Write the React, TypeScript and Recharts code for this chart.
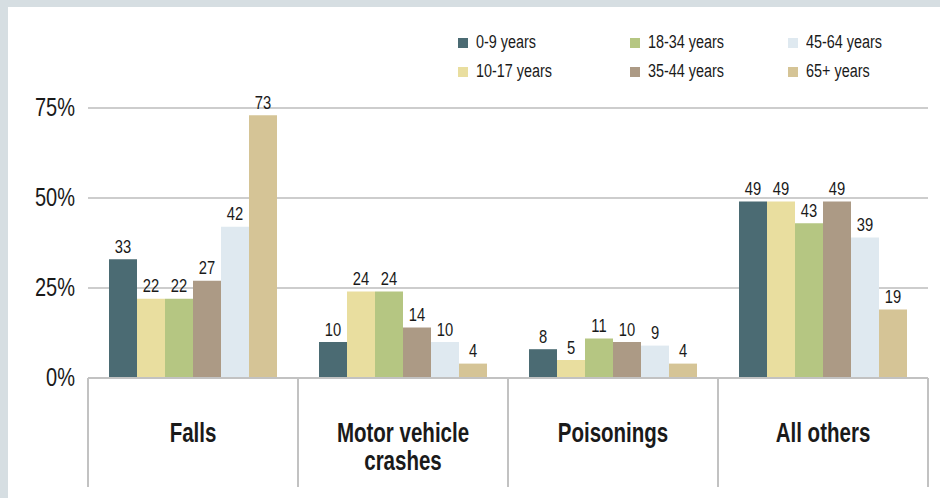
import React from "react";
import { BarChart, Bar, XAxis, YAxis, CartesianGrid, Legend, LabelList } from "recharts";

const categories = ["Falls", "Motor vehicle\ncrashes", "Poisonings", "All others"];
const age0to9 = [33, 10, 8, 49];
const age10to17 = [22, 24, 5, 49];
const age18to34 = [22, 24, 11, 43];
const age35to44 = [27, 14, 10, 49];
const age45to64 = [42, 10, 9, 39];
const age65plus = [73, 4, 4, 19];
const yTicks = [0, 25, 50, 75];

const seriesDefs = [
  { key: "a0", name: "0-9 years", values: age0to9, color: "#4b6b73" },
  { key: "a10", name: "10-17 years", values: age10to17, color: "#e9de9f" },
  { key: "a18", name: "18-34 years", values: age18to34, color: "#b5c682" },
  { key: "a35", name: "35-44 years", values: age35to44, color: "#ac9a85" },
  { key: "a45", name: "45-64 years", values: age45to64, color: "#dfe9f0" },
  { key: "a65", name: "65+ years", values: age65plus, color: "#d5c496" },
];

const data = categories.map((c, i) => {
  const row: any = { category: c };
  seriesDefs.forEach((s) => (row[s.key] = s.values[i]));
  return row;
});

const FONT = '"Liberation Sans", Arial, sans-serif';
const LINE = "#c2c2c2";
const INK = "#1a1a1a";

const NarrowText = ({ x, y, scale, anchor, size, bold, children }: any) => (
  <text
    transform={`translate(${x},${y}) scale(${scale},1)`}
    x={0}
    y={0}
    textAnchor={anchor}
    dominantBaseline="central"
    fontFamily={FONT}
    fontWeight={bold ? "bold" : "normal"}
    fontSize={size}
    fill={INK}
  >
    {children}
  </text>
);

const CategoryTick = (props: any) => {
  const { x, y, payload, index } = props;
  const off = payload && payload.offset ? payload.offset : 105;
  const lines = String(payload.value).split("\n");
  const boxH = 109;
  return (
    <g>
      <line x1={x - off} y1={y} x2={x - off} y2={y + boxH} stroke={LINE} strokeWidth={2} />
      {index === categories.length - 1 && (
        <line x1={x + off} y1={y} x2={x + off} y2={y + boxH} stroke={LINE} strokeWidth={2} />
      )}
      {lines.map((l, i) => (
        <NarrowText key={i} x={x} y={y + 54 + i * 28} scale={0.76} anchor="middle" size={27} bold>
          {l}
        </NarrowText>
      ))}
    </g>
  );
};

const YTick = (props: any) => {
  const { x, y, payload } = props;
  return (
    <NarrowText x={x} y={y} scale={0.8} anchor="end" size={25}>
      {payload.value + "%"}
    </NarrowText>
  );
};

const ValueLabel = (props: any) => {
  const { x, y, width, value } = props;
  return (
    <NarrowText x={x + width / 2} y={y - 13} scale={0.82} anchor="middle" size={18}>
      {value}
    </NarrowText>
  );
};

const LegendContent = () => {
  const colWidths = [172, 158, 140];
  return (
    <div
      style={{
        display: "grid",
        gridTemplateColumns: colWidths.map((w) => w + "px").join(" "),
        gridTemplateRows: "29px 29px",
        gridAutoFlow: "column",
        fontFamily: FONT,
        fontSize: 18,
        color: INK,
      }}
    >
      {seriesDefs.map((s, i) => (
        <div key={i} style={{ display: "flex", alignItems: "center", whiteSpace: "nowrap" }}>
          <span
            style={{
              display: "inline-block",
              width: 10,
              height: 10,
              background: s.color,
              marginRight: 8,
              flex: "none",
            }}
          />
          <span style={{ display: "inline-block", transform: "scaleX(0.8)", transformOrigin: "left center" }}>
            {s.name}
          </span>
        </div>
      ))}
    </div>
  );
};

export default function App() {
  return (
    <div style={{ position: "fixed", left: 0, top: 0, width: 940, height: 498, background: "#d6dee2" }}>
      <div style={{ position: "absolute", left: 8, top: 7, width: 932, height: 491, background: "#ffffff" }} />
      <div style={{ position: "absolute", left: 0, top: 0 }}>
        <BarChart
          width={940}
          height={498}
          data={data}
          margin={{ top: 108, right: 12, bottom: 10, left: 0 }}
          barCategoryGap={21}
          barGap={0}
        >
          <CartesianGrid horizontal={true} vertical={false} stroke="#bdbdbd" strokeWidth={1.5} />
          <XAxis
            dataKey="category"
            interval={0}
            height={110}
            tickSize={0}
            tickMargin={0}
            tickLine={false}
            axisLine={{ stroke: LINE, strokeWidth: 2 }}
            tick={<CategoryTick />}
          />
          <YAxis
            width={88}
            domain={[0, 75]}
            ticks={yTicks}
            interval={0}
            tickSize={0}
            tickMargin={13}
            axisLine={false}
            tickLine={false}
            tick={<YTick />}
          />
          <Legend
            layout="horizontal"
            verticalAlign="middle"
            align="center"
            wrapperStyle={{ top: 28, left: 458, width: 480, height: 60 }}
            content={<LegendContent />}
          />
          {seriesDefs.map((s) => (
            <Bar key={s.key} dataKey={s.key} name={s.name} fill={s.color} isAnimationActive={false}>
              <LabelList dataKey={s.key} content={<ValueLabel />} />
            </Bar>
          ))}
        </BarChart>
      </div>
    </div>
  );
}
